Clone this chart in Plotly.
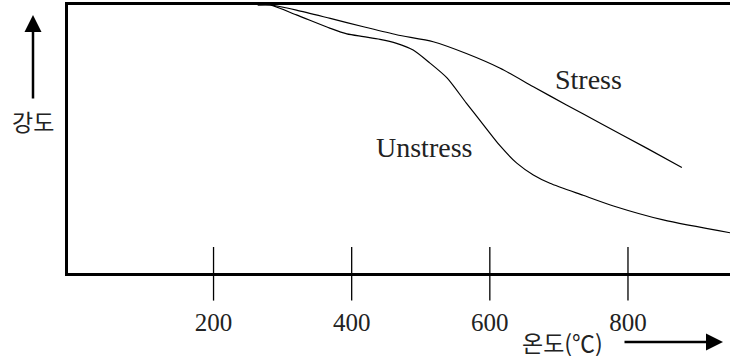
"""Strength vs temperature sketch: Stress / Unstress curves."""
import plotly.graph_objects as go

# temperature (°C) and relative strength (%)
STRESS_T = [264, 282, 320, 369, 417, 465, 518, 566, 615, 663, 711, 760, 827, 878]
STRESS_S = [100, 100, 98.1, 95.0, 91.9, 88.9, 86.3, 81.9, 76.4, 69.5, 62.7, 55.9, 46.6, 39.4]

UNSTRESS_T = [264, 282, 320, 369, 393, 417, 441, 465, 489, 513, 538, 566, 591,
              615, 639, 663, 687, 735, 779, 851, 948]
UNSTRESS_S = [100, 100, 96.3, 91.3, 89.2, 88.2, 87.2, 85.7, 83.2, 78.4, 72.8, 63.4,
              55.2, 47.4, 41.0, 36.6, 33.5, 29.0, 25.0, 19.8, 15.0]

TICK_VALS = [200, 400, 600, 800]
TICK_TEXT = ["200", "400", "600", "800"]

LATIN = "Liberation Serif, Noto Sans CJK KR"
HANGUL = "Noto Sans CJK KR"
INK = "#222222"

W, H = 730, 356
L, R, T, B = 68, 0, 5, 83
PW, PH = W - L - R, H - T - B


def px(x):
    return (x - L) / PW


def py(y):
    return (H - B - y) / PH


def label(fig, text, x, y, family, size):
    fig.add_annotation(text=text, x=px(x), y=py(y), xref="paper", yref="paper",
                       xanchor="center", yanchor="middle", showarrow=False,
                       font=dict(family=family, size=size, color=INK))


fig = go.Figure()
for xs, ys in ((STRESS_T, STRESS_S), (UNSTRESS_T, UNSTRESS_S)):
    fig.add_trace(go.Scatter(
        x=xs, y=ys, mode="lines",
        line=dict(color="black", width=1.2, shape="spline", smoothing=0.7),
        showlegend=False, hoverinfo="skip",
    ))

# ticks that cross the bottom axis
for v in TICK_VALS:
    fig.add_shape(type="line", xref="x", yref="paper", x0=v, x1=v,
                  y0=-0.103, y1=0.097, line=dict(color="black", width=1.3))

label(fig, "Stress", 588, 79, LATIN, 28)
label(fig, "Unstress", 424, 147, LATIN, 28)
label(fig, "강도", 33, 121, HANGUL, 23)
label(fig, "온도(℃)", 562, 342, HANGUL, 23)

# axis arrows
fig.add_annotation(x=px(723), y=py(342), xref="paper", yref="paper", ax=-100, ay=0,
                   showarrow=True, arrowhead=2, arrowsize=1.36, arrowwidth=2.5,
                   arrowcolor="black", text="")
fig.add_annotation(x=px(33), y=py(15), xref="paper", yref="paper", ax=0, ay=85,
                   showarrow=True, arrowhead=2, arrowsize=1.36, arrowwidth=2.5,
                   arrowcolor="black", text="")

fig.update_layout(
    width=W, height=H,
    margin=dict(l=L, r=R, t=T, b=B, pad=0),
    paper_bgcolor="white", plot_bgcolor="white",
    xaxis=dict(range=[-10.7, 947.7], tickvals=TICK_VALS, ticktext=TICK_TEXT,
               ticks="", showgrid=False, zeroline=False, showline=True,
               linecolor="black", linewidth=2.5, mirror=True,
               ticklabelstandoff=25, tickfont=dict(family=LATIN, size=25, color=INK)),
    yaxis=dict(range=[0, 100], showticklabels=False, ticks="", showgrid=False,
               zeroline=False, showline=True, linecolor="black", linewidth=2.5),
)

# drop the page's default body margin so the figure sits at the window origin
fig.write_html("out.html", config={"displayModeBar": False},
               post_script="document.body.style.margin='0';")
